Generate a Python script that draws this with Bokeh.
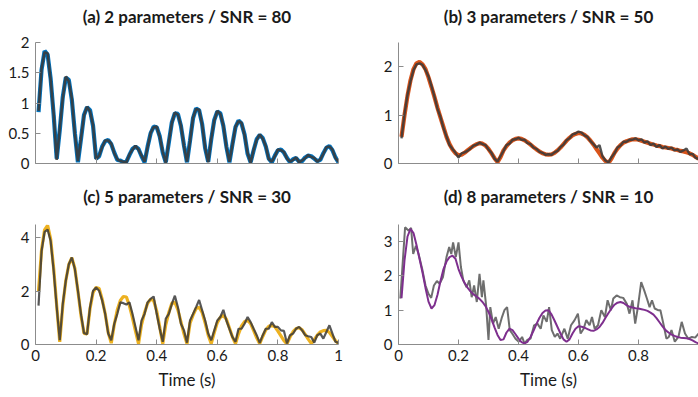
from bokeh.plotting import figure
from bokeh.layouts import column, row
from bokeh.models import Range1d, FixedTicker, CustomJSTickFormatter, Title
from bokeh.embed import file_html
from bokeh.resources import INLINE

# ---------------- data ----------------
time = [round(0.01 * i, 2) for i in range(1, 101)]
x_ticks = [0, 0.2, 0.4, 0.6, 0.8, 1]
x_ticks_d = [0, 0.2, 0.4, 0.6, 0.8]

titles = ["(a) 2 parameters / SNR = 80", "(b) 3 parameters / SNR = 50",
          "(c) 5 parameters / SNR = 30", "(d) 8 parameters / SNR = 10"]
x_label = "Time (s)"

a_yticks = [0, 0.5, 1, 1.5, 2]
b_yticks = [0, 1, 2]
c_yticks = [0, 2, 4]
d_yticks = [0, 1, 2, 3]

a_fit = [0.85, 1.55, 1.86, 1.80, 1.40, 0.80, 0.08,
         0.55, 1.10, 1.42, 1.38, 1.05, 0.50, 0.02,
         0.40, 0.80, 0.93, 0.88, 0.62, 0.08,
         0.12, 0.28, 0.37, 0.39, 0.32, 0.18, 0.06, 0.05, 0.02,
         0.03, 0.14, 0.24, 0.28, 0.24, 0.12, 0.02,
         0.28, 0.50, 0.61, 0.60, 0.45, 0.18, 0.02,
         0.35, 0.68, 0.83, 0.82, 0.62, 0.30, 0.02,
         0.38, 0.75, 0.91, 0.88, 0.65, 0.25, 0.03,
         0.40, 0.72, 0.86, 0.83, 0.62, 0.28, 0.02,
         0.32, 0.60, 0.71, 0.66, 0.48, 0.16, 0.02,
         0.22, 0.40, 0.47, 0.42, 0.28, 0.08, 0.02,
         0.13, 0.22, 0.23, 0.18, 0.09, 0.02,
         0.07, 0.09, 0.03,
         0.04, 0.10, 0.13, 0.12, 0.08, 0.04,
         0.06, 0.17, 0.26, 0.29, 0.22, 0.10, 0.02]
a_data = [0.87, 1.57, 1.84, 1.82, 1.38, 0.82, 0.06,
          0.57, 1.08, 1.44, 1.36, 1.07, 0.48, 0.04,
          0.41, 0.79, 0.94, 0.86, 0.63, 0.07,
          0.13, 0.27, 0.38, 0.38, 0.33, 0.17, 0.07, 0.04, 0.03,
          0.02, 0.15, 0.23, 0.29, 0.23, 0.13, 0.03,
          0.27, 0.51, 0.60, 0.61, 0.44, 0.19, 0.01,
          0.36, 0.67, 0.84, 0.81, 0.63, 0.29, 0.03,
          0.37, 0.76, 0.90, 0.89, 0.64, 0.26, 0.02,
          0.41, 0.71, 0.87, 0.82, 0.63, 0.27, 0.03,
          0.31, 0.61, 0.70, 0.67, 0.47, 0.17, 0.01,
          0.23, 0.39, 0.48, 0.41, 0.29, 0.07, 0.03,
          0.12, 0.23, 0.22, 0.19, 0.08, 0.03,
          0.06, 0.10, 0.02,
          0.05, 0.09, 0.14, 0.11, 0.09, 0.03,
          0.07, 0.16, 0.27, 0.28, 0.23, 0.09, 0.03]

b_fit = [0.55, 1.00, 1.40, 1.72, 1.95, 2.07, 2.10, 2.05, 1.95, 1.78,
         1.58, 1.37, 1.15, 0.95, 0.75, 0.55, 0.40, 0.29, 0.21, 0.17,
         0.18, 0.22, 0.27, 0.32, 0.36, 0.40, 0.42, 0.41, 0.37, 0.30,
         0.21, 0.11, 0.03, 0.13, 0.27, 0.36, 0.43, 0.48, 0.51, 0.52,
         0.51, 0.48, 0.44, 0.39, 0.34, 0.29, 0.25, 0.21, 0.19, 0.18,
         0.19, 0.22, 0.27, 0.33, 0.40, 0.47, 0.53, 0.58, 0.61, 0.63,
         0.62, 0.59, 0.54, 0.47, 0.39, 0.30, 0.21, 0.12, 0.05, 0.01,
         0.10, 0.22, 0.31, 0.38, 0.43, 0.46, 0.48, 0.50, 0.50, 0.49,
         0.47, 0.45, 0.43, 0.41, 0.39, 0.37, 0.36, 0.34, 0.33, 0.32,
         0.31, 0.29, 0.28, 0.26, 0.25, 0.23, 0.21, 0.18, 0.14, 0.10]
b_data = [0.52, 1.02, 1.42, 1.70, 1.93, 2.05, 2.07, 2.04, 1.93, 1.80,
          1.60, 1.38, 1.13, 0.96, 0.73, 0.56, 0.38, 0.30, 0.22, 0.12,
          0.21, 0.23, 0.26, 0.31, 0.37, 0.39, 0.43, 0.40, 0.38, 0.29,
          0.22, 0.10, 0.04, 0.15, 0.26, 0.38, 0.41, 0.49, 0.50, 0.53,
          0.49, 0.49, 0.42, 0.40, 0.33, 0.30, 0.24, 0.22, 0.18, 0.19,
          0.18, 0.23, 0.26, 0.34, 0.39, 0.48, 0.52, 0.60, 0.62, 0.66,
          0.64, 0.58, 0.55, 0.46, 0.40, 0.33, 0.38, 0.15, 0.06, 0.02,
          0.13, 0.21, 0.33, 0.37, 0.45, 0.45, 0.49, 0.49, 0.52, 0.48,
          0.50, 0.43, 0.46, 0.38, 0.41, 0.34, 0.38, 0.31, 0.35, 0.30,
          0.33, 0.27, 0.29, 0.24, 0.27, 0.31, 0.19, 0.20, 0.12, 0.09]

c_fit = [2.00, 3.55, 4.30, 4.47, 3.95, 2.85, 1.45, 0.10,
         1.45, 2.40, 3.00, 3.26, 2.85, 2.00, 1.10, 0.42, 0.40,
         1.35, 1.95, 2.14, 2.10, 1.70, 1.15, 0.45, 0.05,
         0.75, 1.30, 1.65, 1.80, 1.78, 1.45, 1.00, 0.50, 0.03,
         0.75, 1.20, 1.55, 1.70, 1.65, 1.25, 0.65, 0.03,
         0.75, 1.20, 1.55, 1.58, 1.30, 0.85, 0.40, 0.03,
         0.80, 1.10, 1.35, 1.40, 1.20, 0.80, 0.35, 0.03,
         0.45, 0.82, 1.02, 1.09, 0.95, 0.62, 0.28, 0.03,
         0.40, 0.70, 0.86, 0.90, 0.78, 0.52, 0.25, 0.03,
         0.30, 0.55, 0.68, 0.72, 0.66, 0.50, 0.32, 0.14, 0.02,
         0.28, 0.48, 0.60, 0.63, 0.55, 0.38, 0.20, 0.04,
         0.18, 0.35, 0.47, 0.52, 0.53, 0.45, 0.30, 0.14, 0.03]
c_data = [1.46, 3.50, 4.22, 4.31, 3.88, 2.76, 1.40, 0.16, 1.52, 2.39,
          3.01, 3.26, 2.82, 2.02, 1.15, 0.43, 0.38, 1.40, 2.02, 2.14,
          2.02, 1.65, 1.15, 0.41, 0.16, 0.78, 1.15, 1.58, 1.55, 1.50,
          1.58, 1.15, 0.66, 0.16, 0.90, 1.15, 1.58, 1.71, 1.80, 1.15,
          0.59, 0.10, 0.97, 1.15, 1.52, 1.83, 1.40, 0.78, 0.53, 0.07,
          0.90, 1.15, 1.40, 1.67, 1.28, 0.90, 0.41, 0.16, 0.53, 0.90,
          1.03, 1.30, 0.90, 0.59, 0.28, 0.10, 0.59, 0.59, 0.78, 1.03,
          0.84, 0.59, 0.35, 0.06, 0.35, 0.59, 0.59, 0.84, 0.66, 0.66,
          0.53, 0.51, 0.04, 0.35, 0.41, 0.59, 0.66, 0.53, 0.35, 0.31,
          0.28, 0.07, 0.35, 0.41, 0.22, 0.47, 0.72, 0.41, 0.10, 0.06]

d_fit = [1.35, 2.45, 3.15, 3.37, 3.25, 2.90, 2.50, 2.10, 1.65, 1.25,
         1.05, 1.15, 1.45, 1.85, 2.20, 2.42, 2.55, 2.59, 2.50, 2.20,
         1.98, 1.80, 1.66, 1.55, 1.46, 1.40, 1.33, 1.24, 1.12, 0.95,
         0.74, 0.50, 0.28, 0.13, 0.15, 0.35, 0.46, 0.42, 0.30, 0.17,
         0.07, 0.03, 0.08, 0.22, 0.40, 0.60, 0.78, 0.92, 0.99, 1.00,
         0.88, 0.70, 0.51, 0.32, 0.15, 0.08, 0.15, 0.32, 0.46, 0.53,
         0.52, 0.49, 0.45, 0.41, 0.40, 0.44, 0.51, 0.63, 0.78, 0.92,
         1.05, 1.16, 1.22, 1.24, 1.21, 1.15, 1.10, 1.08, 1.06, 1.05,
         1.03, 1.01, 0.98, 0.93, 0.87, 0.77, 0.65, 0.53, 0.42, 0.35,
         0.29, 0.25, 0.22, 0.20, 0.19, 0.18, 0.16, 0.12, 0.07, 0.03]
d_data_t = [0.006, 0.022, 0.034, 0.042, 0.049, 0.058, 0.067, 0.079, 0.09, 0.1,
            0.109, 0.118, 0.128, 0.137, 0.148, 0.16, 0.169, 0.176, 0.182, 0.191,
            0.2, 0.208, 0.216, 0.227, 0.236, 0.244, 0.252, 0.261, 0.27, 0.278,
            0.283, 0.292, 0.3, 0.306, 0.315, 0.324, 0.334, 0.345, 0.353, 0.362,
            0.371, 0.379, 0.39, 0.401, 0.412, 0.42, 0.429, 0.44, 0.452, 0.463,
            0.474, 0.483, 0.494, 0.502, 0.511, 0.521, 0.53, 0.539, 0.553, 0.564,
            0.575, 0.587, 0.598, 0.607, 0.617, 0.626, 0.637, 0.645, 0.654, 0.665,
            0.676, 0.688, 0.697, 0.708, 0.716, 0.727, 0.738, 0.749, 0.761, 0.77,
            0.78, 0.789, 0.798, 0.809, 0.819, 0.828, 0.837, 0.845, 0.854, 0.865,
            0.873, 0.884, 0.893, 0.901, 0.91, 0.921, 0.933, 0.944, 0.955, 0.966,
            0.978, 0.989, 1.0]
d_data = [1.34, 3.42, 3.32, 3.40, 2.64, 2.88, 2.64, 2.20, 1.72, 1.48,
          1.36, 1.72, 1.85, 1.77, 1.96, 2.55, 2.84, 2.64, 2.98, 2.55,
          2.98, 2.26, 1.87, 1.67, 1.87, 1.38, 1.72, 1.24, 2.06, 1.38,
          1.87, 1.14, 0.13, 1.09, 0.61, 0.80, 0.46, 0.80, 1.00, 1.09,
          0.42, 0.32, 0.17, 0.08, 0.22, 0.03, 0.13, 0.17, 0.56, 0.61,
          0.46, 0.85, 0.66, 1.09, 0.42, 0.22, 0.32, 0.17, 0.46, 0.17,
          0.56, 0.71, 0.90, 0.32, 0.46, 0.71, 0.56, 0.80, 0.46, 0.56,
          1.00, 0.80, 1.29, 1.00, 1.34, 1.43, 1.38, 1.36, 1.19, 0.90,
          1.29, 0.61, 1.09, 1.82, 1.58, 1.34, 1.09, 1.29, 1.05, 1.00,
          1.00, 0.56, 0.17, 0.22, 0.42, 0.08, 0.22, 0.66, 0.32, 0.17,
          0.22, 0.20, 0.32]

fit_colors = ["#0072BD", "#D95319", "#EDB120", "#7E2F8E"]
data_color = "#3a3a3a"

# ---------------- styling ----------------
FONT = "Lato"
AXIS_GREY = "#8c8c8c"
TEXT = "#1a1a1a"


def make_panel(title, ymax, yticks, xticks, show_xlabels, frame_w, border_l,
               border_r, border_t, border_b, frame_h, gap):
    p = figure(frame_width=frame_w, frame_height=frame_h, title=None,
               x_range=Range1d(0, 1), y_range=Range1d(0, ymax),
               output_backend="svg", toolbar_location=None,
               min_border_left=border_l, min_border_right=border_r,
               min_border_top=border_t, min_border_bottom=border_b)
    # empty spacer panel between the frame and the title
    p.add_layout(Title(text=" ", text_font_size="1px", standoff=gap), "above")
    p.add_layout(Title(text=title, align="center", text_font=FONT,
                       text_font_style="bold", text_font_size="17px",
                       text_color=TEXT, standoff=0), "above")
    p.xgrid.visible = False
    p.ygrid.visible = False
    p.outline_line_color = None
    p.background_fill_color = "white"
    p.border_fill_color = "white"
    for ax in (p.xaxis[0], p.yaxis[0]):
        ax.axis_line_color = AXIS_GREY
        ax.major_tick_line_color = AXIS_GREY
        ax.major_tick_in = 5
        ax.major_tick_out = 0
        ax.minor_tick_line_color = None
        ax.major_label_text_font = FONT
        ax.major_label_text_font_size = "15px"
        ax.major_label_text_color = TEXT
        ax.major_label_standoff = 6
        ax.formatter = CustomJSTickFormatter(code="return String(tick)")
    p.yaxis[0].ticker = FixedTicker(ticks=yticks)
    p.xaxis[0].ticker = FixedTicker(ticks=xticks)
    if show_xlabels:
        p.xaxis[0].axis_label = x_label
        p.xaxis[0].axis_label_text_font = FONT
        p.xaxis[0].axis_label_text_font_style = "normal"
        p.xaxis[0].axis_label_text_font_size = "17px"
        p.xaxis[0].axis_label_text_color = TEXT
        p.xaxis[0].axis_label_standoff = 5
        p.xaxis[0].major_label_standoff = 5
    else:
        p.xaxis[0].formatter = CustomJSTickFormatter(code="return ''")
        p.xaxis[0].major_label_text_font_size = "0px"
        p.xaxis[0].major_label_standoff = 0
    return p


pa = make_panel(titles[0], 2, a_yticks, x_ticks, False, 303, 35, 32, 42, 8, 121, 13)
pb = make_panel(titles[1], 2.5, b_yticks, x_ticks, False, 300, 28, 0, 42, 8, 121, 13)
pc = make_panel(titles[2], 4.5, c_yticks, x_ticks, True, 303, 35, 32, 53, 50, 120, 15)
pd_ = make_panel(titles[3], 3.5, d_yticks, x_ticks_d, True, 300, 28, 0, 53, 50, 120, 15)

pa.line(time, a_fit, line_color=fit_colors[0], line_width=4.2)
pa.line(time, a_data, line_color=data_color, line_width=2.6, line_alpha=0.88)

pb.line(time, b_fit, line_color=fit_colors[1], line_width=4.2)
pb.line(time, b_data, line_color=data_color, line_width=2.4, line_alpha=0.88)

pc.line(time, c_fit, line_color=fit_colors[2], line_width=3.2)
pc.line(time, c_data, line_color=data_color, line_width=2.2, line_alpha=0.85)

pd_.line(d_data_t, d_data, line_color="#555555", line_width=2, line_alpha=0.85)
pd_.line(time, d_fit, line_color=fit_colors[3], line_width=2)

layout = column(row(pa, pb), row(pc, pd_))

open("out.html", "w").write(file_html(layout, INLINE))
